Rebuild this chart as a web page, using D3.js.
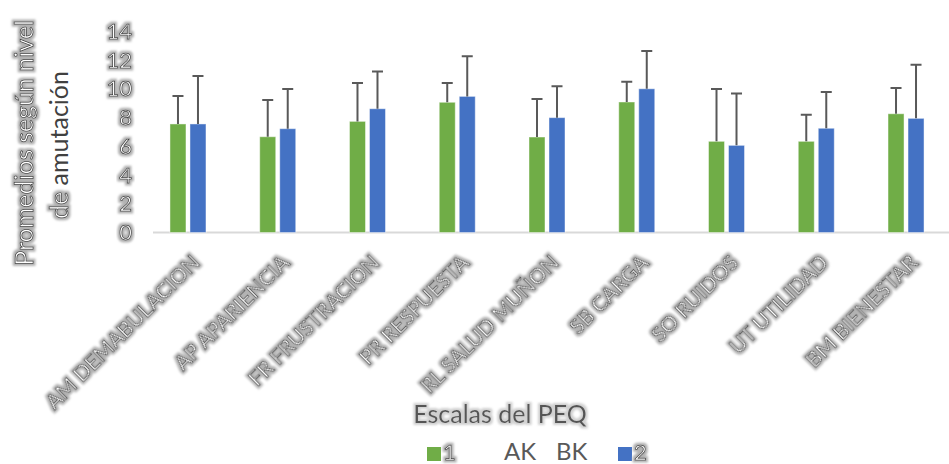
<!DOCTYPE html>
<html><head><meta charset="utf-8">
<script src="https://cdn.jsdelivr.net/npm/d3@7"></script>
<style>
body{margin:0;background:#fff;}
svg text{font-family:"Lato","Open Sans",sans-serif;}
</style></head>
<body>
<svg id="chart" width="949" height="464"></svg>
<script>
const categories = ["AM DEMABULACION","AP APARIENCIA","FR FRUSTRACION","PR RESPUESTA","RL SALUD MUÑON","SB CARGA","SO RUIDOS","UT UTILIDAD","BM BIENESTAR"];
const seriesNames = ["1","2"];
const series1 = [7.56, 6.67, 7.74, 9.07, 6.65, 9.09, 6.35, 6.35, 8.27];
const err1    = [1.94, 2.56, 2.67, 1.34, 2.65, 1.41, 3.64, 1.85, 1.79];
const series2 = [7.56, 7.23, 8.62, 9.48, 8.00, 10.01, 6.07, 7.26, 7.95];
const err2    = [3.34, 2.77, 2.60, 2.79, 2.18, 2.63, 3.62, 2.52, 3.74];
const yTicks = [0,2,4,6,8,10,12,14];
const xTitle = "Escalas del PEQ";
const yTitle1 = "Promedios según nivel";
const yTitle2a = "de";
const yTitle2b = "amutación";
const legendExtra = ["AK","BK"];

const colors = {"1":"#70AD47","2":"#4472C4"};
const svg = d3.select("#chart");

const defs = svg.append("defs");
function makeGlow(id, color, r){
  const f = defs.append("filter").attr("id",id).attr("x","-20%").attr("y","-30%").attr("width","140%").attr("height","160%");
  f.append("feMorphology").attr("in","SourceAlpha").attr("operator","dilate").attr("radius",r).attr("result","d");
  f.append("feGaussianBlur").attr("in","d").attr("stdDeviation",0.9).attr("result","b");
  f.append("feFlood").attr("flood-color",color);
  f.append("feComposite").attr("in2","b").attr("operator","in").attr("result","g");
  const m = f.append("feMerge"); m.append("feMergeNode").attr("in","g"); m.append("feMergeNode").attr("in","SourceGraphic");
}
makeGlow("glow","#b0b0b0",1.6);
makeGlow("glowLight","#d0d0d0",1.5);

function glow(sel){ sel.attr("fill","#ffffff").attr("stroke","#3c3c3c").attr("stroke-width",0.75).attr("filter","url(#glow)"); }

const y = d3.scaleLinear().domain([0,14]).range([232.5, 31.5]);
const x = d3.scaleBand().domain(categories).range([143.1, 950.9]);
const bw = x.bandwidth();
const x1 = d3.scaleBand().domain(seriesNames).range([bw/2-18, bw/2+18]).paddingInner(0.2);

const data = categories.map((c,i)=>({cat:c, vals:[
  {s:"1", v:series1[i], e:err1[i]},
  {s:"2", v:series2[i], e:err2[i]}]}));

// baseline
svg.append("line").attr("x1",153).attr("x2",949).attr("y1",y(0)).attr("y2",y(0))
  .attr("stroke","#d9d9d9").attr("stroke-width",2);

const g = svg.append("g").selectAll("g").data(data).join("g").attr("transform",d=>`translate(${x(d.cat)},0)`);
g.selectAll("rect").data(d=>d.vals).join("rect")
  .attr("x",d=>x1(d.s)).attr("width",x1.bandwidth())
  .attr("y",d=>y(d.v)).attr("height",d=>y(0)-y(d.v))
  .attr("fill",d=>colors[d.s]).attr("stroke","#ffffff").attr("stroke-opacity",0.45).attr("stroke-width",1);
// error bars (plus only)
g.selectAll("path.err").data(d=>d.vals).join("path").attr("class","err")
  .attr("d",d=>{const cx=x1(d.s)+x1.bandwidth()/2; const t=y(d.v+d.e);
    return `M${cx},${y(d.v)}V${t}M${cx-5.5},${t}H${cx+5.5}`;})
  .attr("stroke","#595959").attr("stroke-width",2).attr("fill","none");

// y axis
const ya = svg.append("g").attr("transform","translate(140,0)")
  .call(d3.axisLeft(y).tickValues(yTicks).tickSize(0).tickPadding(8));
ya.select(".domain").remove();
ya.selectAll("text").attr("font-size",22).attr("font-family","Lato, sans-serif").call(glow);

// x labels
svg.append("g").selectAll("text").data(categories).join("text")
  .attr("transform",c=>`translate(${x(c)+bw/2+8},${259}) rotate(-45)`)
  .attr("text-anchor","end").attr("dy","0.35em")
  .attr("font-size",21).text(c=>c).call(glow);

// y title
svg.append("text").attr("transform","translate(33,143) rotate(-90)").attr("text-anchor","middle")
  .attr("font-size",25).text(yTitle1).call(glow);
const t2 = svg.append("text").attr("transform","translate(68,145) rotate(-90)").attr("text-anchor","middle")
  .attr("font-size",25);
t2.append("tspan").text(yTitle2a+" ").call(glow);
t2.append("tspan").text(yTitle2b).attr("fill","#404040").attr("stroke","none");

// x title
svg.append("text").attr("x",500).attr("y",423).attr("text-anchor","middle")
  .attr("font-size",25).attr("fill","#555555").attr("filter","url(#glowLight)").text(xTitle);

// legend
const lg = svg.append("g");
lg.append("rect").attr("x",427).attr("y",447).attr("width",14).attr("height",14).attr("fill",colors["1"]);
lg.append("text").attr("x",443).attr("y",460).attr("font-size",22).text(seriesNames[0]).call(glow);
lg.append("text").attr("x",504).attr("y",460).attr("font-size",24).attr("fill","#595959").text(legendExtra[0]);
lg.append("text").attr("x",556).attr("y",460).attr("font-size",24).attr("fill","#595959").text(legendExtra[1]);
lg.append("rect").attr("x",618).attr("y",447).attr("width",14).attr("height",14).attr("fill",colors["2"]);
lg.append("text").attr("x",634).attr("y",460).attr("font-size",22).text(seriesNames[1]).call(glow);
</script>
</body></html>
